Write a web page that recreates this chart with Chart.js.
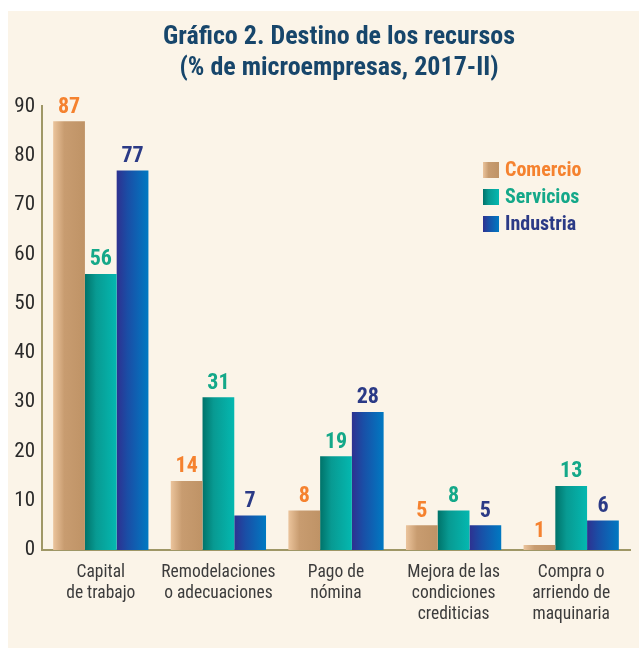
<!DOCTYPE html>
<html>
<head>
<meta charset="utf-8">
<script src="https://cdn.jsdelivr.net/npm/chart.js@4.4.0/dist/chart.umd.min.js"></script>
<style>
  html, body { margin: 0; padding: 0; background: #ffffff; }
  #wrap { position: relative; width: 639px; height: 648px; }
  canvas { display: block; }
</style>
</head>
<body>
<div id="wrap"><canvas id="grafico" width="639" height="648"></canvas></div>
<script>
// Datos del gráfico
const categorias = [
    ['Capital', 'de trabajo'],
    ['Remodelaciones', 'o adecuaciones'],
    ['Pago de', 'nómina'],
    ['Mejora de las', 'condiciones', 'crediticias'],
    ['Compra o', 'arriendo de', 'maquinaria']
];
const series = ['Comercio', 'Servicios', 'Industria'];
const comercio = [87, 14, 8, 5, 1];
const servicios = [56, 31, 19, 8, 13];
const industria = [77, 7, 28, 5, 6];
const yMin = 0, yMax = 90, yPaso = 10;

const FUENTE = '"Roboto Condensed", "Liberation Sans Narrow", "DejaVu Sans Condensed", sans-serif';
const ANCHO_GRUPO = 0.81;

// colores: [izquierda, centro, derecha] del degradado y color del texto
const estilos = [
    { grad: ['#ebc49c', '#c89c70', '#bf9366'], texto: '#f5822f' },
    { grad: ['#00736a', '#089a92', '#04b8b0'], texto: '#14a889' },
    { grad: ['#2e3190', '#1a4ea6', '#0079c2'], texto: '#2b3a86' }
];

function degradado(ctx, x0, x1, cols) {
    const g = ctx.createLinearGradient(x0, 0, x1, 0);
    g.addColorStop(0, cols[0]);
    g.addColorStop(0.35, cols[1]);
    g.addColorStop(1, cols[2]);
    return g;
}

// color de cada barra, calculado desde la escala x
function colorBarra(context) {
    const chart = context.chart;
    const est = estilos[context.datasetIndex];
    const xs = chart.scales.x;
    if (!chart.chartArea || !xs || context.dataIndex === undefined) {
        return est.grad[1];
    }
    const centro = xs.getPixelForValue(context.dataIndex);
    const cat = xs.width / categorias.length;
    const ancho = cat * ANCHO_GRUPO / series.length;
    const x0 = centro - cat * ANCHO_GRUPO / 2 + context.datasetIndex * ancho;
    return degradado(chart.ctx, x0, x0 + ancho, est.grad);
}

// fondo crema
const fondo = {
    id: 'fondo',
    beforeDraw(chart) {
        const ctx = chart.ctx;
        ctx.save();
        ctx.fillStyle = '#fbf4e8';
        ctx.fillRect(8, 11, chart.width - 8, chart.height - 11);
        ctx.restore();
    }
};

// centrar el título un poco más a la derecha, como en el original
const tituloCentrado = {
    id: 'tituloCentrado',
    afterLayout(chart) {
        const t = chart.titleBlock;
        if (t) {
            t.left = 48;
            t.right = 630;
            t.width = t.right - t.left;
        }
    }
};

// etiquetas de valor sobre las barras
const etiquetas = {
    id: 'etiquetas',
    afterDatasetsDraw(chart) {
        const ctx = chart.ctx;
        ctx.save();
        ctx.font = 'bold 22px ' + FUENTE;
        ctx.textAlign = 'center';
        ctx.textBaseline = 'bottom';
        chart.data.datasets.forEach((ds, i) => {
            const meta = chart.getDatasetMeta(i);
            ctx.fillStyle = estilos[i].texto;
            meta.data.forEach((el, j) => {
                ctx.fillText(String(ds.data[j]), el.x, el.y - 3);
            });
        });
        ctx.restore();
    }
};

// leyenda dentro del área del gráfico
const leyenda = {
    id: 'leyenda',
    afterDraw(chart) {
        const ctx = chart.ctx;
        ctx.save();
        ctx.font = 'bold 20px ' + FUENTE;
        ctx.textBaseline = 'middle';
        chart.data.datasets.forEach((ds, i) => {
            const y = 170 + i * 27;
            ctx.fillStyle = degradado(ctx, 483, 499, estilos[i].grad);
            ctx.fillRect(483, y - 8, 16, 16);
            ctx.fillStyle = estilos[i].texto;
            ctx.fillText(ds.label, 505, y + 1);
        });
        ctx.restore();
    }
};

const datos = {
    labels: categorias,
    datasets: [comercio, servicios, industria].map((valores, i) => ({
        label: series[i],
        data: valores,
        backgroundColor: colorBarra,
        borderWidth: 0,
        categoryPercentage: ANCHO_GRUPO,
        barPercentage: 1.0
    }))
};

const opciones = {
    responsive: false,
    animation: false,
    layout: { padding: { left: 8, right: 9, top: 12, bottom: 0 } },
    plugins: {
        legend: { display: false },
        tooltip: { enabled: false },
        title: {
            display: true,
            text: ['Gráfico 2. Destino de los recursos', '(% de microempresas, 2017-II)'],
            color: '#17466b',
            font: { family: FUENTE, size: 26, weight: 'bold', lineHeight: 1.2 },
            padding: { top: 10, bottom: 22 }
        }
    },
    scales: {
        x: {
            grid: { display: false, drawTicks: false },
            border: { display: true, color: '#9f9766', width: 2 },
            ticks: {
                color: '#3c3c3c',
                font: { family: FUENTE, size: 17.5, lineHeight: 1.2 },
                maxRotation: 0,
                autoSkip: false,
                padding: 12
            },
            afterFit(scale) { scale.height = 98; }
        },
        y: {
            min: yMin,
            max: yMax,
            grid: { display: false, drawTicks: false },
            border: { display: true, color: '#9f9766', width: 2 },
            ticks: {
                stepSize: yPaso,
                color: '#2a2a2a',
                font: { family: FUENTE, size: 21 },
                padding: 7
            },
            afterFit(scale) { scale.width = 34; }
        }
    }
};

new Chart(document.getElementById('grafico'), {
    type: 'bar',
    data: datos,
    options: opciones,
    plugins: [fondo, tituloCentrado, etiquetas, leyenda]
});
</script>
</body>
</html>
